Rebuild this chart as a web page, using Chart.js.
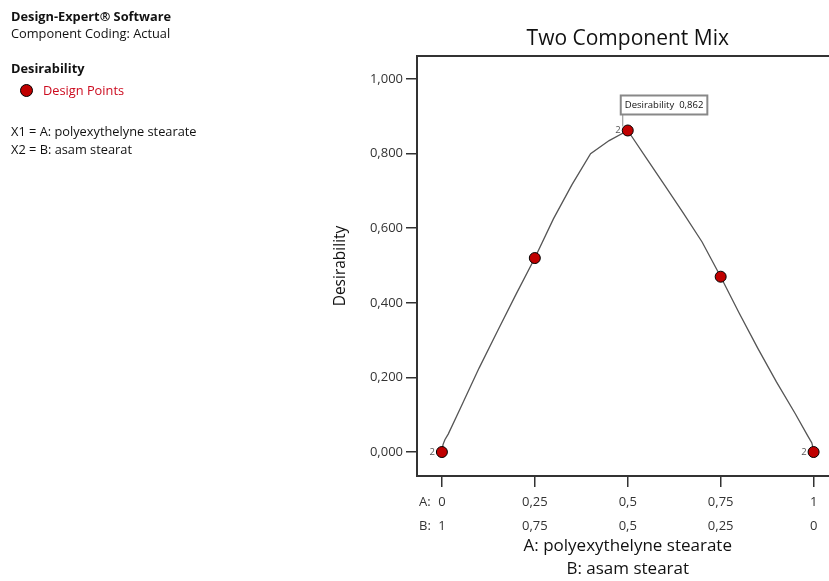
<!DOCTYPE html>
<html>
<head>
<meta charset="utf-8">
<script src="https://cdn.jsdelivr.net/npm/chart.js@4.4.1/dist/chart.umd.min.js"></script>
<style>
  html, body { margin: 0; padding: 0; background: #fff; overflow: hidden; }
  #wrap { position: relative; width: 845px; height: 581px; }
  .note { position: absolute; left: 11px; font-family: 'Open Sans', sans-serif; font-size: 12.8px; line-height: 16px; color: #111; white-space: nowrap; }
  .bold { font-weight: bold; }
  .dot { position: absolute; left: 20px; top: 84px; width: 13px; height: 13px; box-sizing: border-box; border-radius: 50%; background: #c00000; border: 1.5px solid #000; }
</style>
</head>
<body>
<div id="wrap">
  <canvas id="mixCanvas"></canvas>
  <div class="note bold" style="top:8px">Design-Expert® Software</div>
  <div class="note" style="top:25px">Component Coding: Actual</div>
  <div class="note bold" style="top:60px">Desirability</div>
  <div class="dot"></div>
  <div class="note" style="top:82px; left:43px; color:#cc0a1e">Design Points</div>
  <div class="note" style="top:123px">X1 = A: polyexythelyne stearate</div>
  <div class="note" style="top:141px">X2 = B: asam stearat</div>
</div>
<script>
// design points (A proportion) and their desirability
var designX = [0, 0.25, 0.5, 0.75, 1];
var designY = [0, 0.52, 0.862, 0.47, 0];
var designRuns = [2, 1, 2, 1, 2];

// fitted desirability curve
var curveX = [0, 0.003, 0.008, 0.017, 0.05, 0.1, 0.15, 0.2, 0.25, 0.3, 0.35, 0.4, 0.45, 0.5,
  0.55, 0.6, 0.65, 0.7, 0.75, 0.8, 0.85, 0.9, 0.95, 0.985, 0.995, 0.999, 1];
var curveY = [0, 0.02, 0.033, 0.048, 0.118, 0.225, 0.325, 0.424, 0.52, 0.625, 0.717, 0.8, 0.835, 0.862,
  0.788, 0.714, 0.64, 0.563, 0.47, 0.372, 0.278, 0.188, 0.104, 0.042, 0.025, 0.01, 0];

var xTicks = [0, 0.25, 0.5, 0.75, 1];
var aLabels = ['0', '0,25', '0,5', '0,75', '1'];
var bLabels = ['1', '0,75', '0,5', '0,25', '0'];
var yTicks = [0, 0.2, 0.4, 0.6, 0.8, 1];
var yLabels = ['0,000', '0,200', '0,400', '0,600', '0,800', '1,000'];

var axisColor = '#333';
var tickFont = { family: 'Open Sans', size: 13, lineHeight: 1.8 };

function toPoints(xs, ys) {
  return xs.map(function (x, i) { return { x: x, y: ys[i] }; });
}

var extras = {
  id: 'extras',
  afterDraw: function (chart) {
    var ctx = chart.ctx;
    var area = chart.chartArea;
    var xs = chart.scales.x;
    var ys = chart.scales.y;
    ctx.save();

    // top frame line
    ctx.strokeStyle = axisColor;
    ctx.lineWidth = 2;
    ctx.beginPath();
    ctx.moveTo(area.left - 1, area.top);
    ctx.lineTo(area.right, area.top);
    ctx.stroke();

    // A: / B: row prefixes
    var lh = tickFont.size * tickFont.lineHeight;
    var rowTop = area.bottom + 11 + 4;
    ctx.font = tickFont.size + 'px "Open Sans"';
    ctx.fillStyle = axisColor;
    ctx.textAlign = 'left';
    ctx.textBaseline = 'middle';
    ctx.fillText('A:', area.left + 2, rowTop + lh / 2);
    ctx.fillText('B:', area.left + 2, rowTop + lh * 1.5);

    // replicate counts
    ctx.font = '9.5px "Open Sans"';
    ctx.fillStyle = '#555';
    ctx.textAlign = 'right';
    designX.forEach(function (x, i) {
      if (designRuns[i] > 1) {
        ctx.fillText(String(designRuns[i]), xs.getPixelForValue(x) - 7, ys.getPixelForValue(designY[i]));
      }
    });

    // flag on the best point
    var best = designY.indexOf(Math.max.apply(null, designY));
    var px = xs.getPixelForValue(designX[best]);
    var py = ys.getPixelForValue(designY[best]);
    var text = 'Desirability  ' + designY[best].toFixed(3).replace('.', ',');
    ctx.font = '9.5px "Open Sans"';
    var w = ctx.measureText(text).width + 8;
    var boxL = px - 7, boxB = py - 16, boxH = 19;
    ctx.strokeStyle = '#888';
    ctx.lineWidth = 1;
    ctx.beginPath();
    ctx.moveTo(px - 5, boxB);
    ctx.lineTo(px - 5, py - 4);
    ctx.stroke();
    ctx.fillStyle = '#fff';
    ctx.fillRect(boxL, boxB - boxH, w, boxH);
    ctx.lineWidth = 2;
    ctx.strokeRect(boxL, boxB - boxH, w, boxH);
    ctx.fillStyle = '#111';
    ctx.textAlign = 'left';
    ctx.fillText(text, boxL + 4, boxB - boxH / 2);
    ctx.restore();
  }
};

function mixChart() {
  new Chart(document.getElementById('mixCanvas').getContext('2d'), {
    type: 'scatter',
    data: {
      datasets: [{
        label: 'Design Points',
        data: toPoints(designX, designY),
        pointRadius: 5.5,
        pointBackgroundColor: '#c00000',
        pointBorderColor: '#000',
        pointBorderWidth: 1,
        showLine: false
      }, {
        label: 'Desirability',
        data: toPoints(curveX, curveY),
        showLine: true,
        pointRadius: 0,
        borderColor: '#555',
        borderWidth: 1.3,
        tension: 0,
        clip: false
      }]
    },
    options: {
      responsive: true,
      maintainAspectRatio: false,
      animation: false,
      events: [],
      layout: { padding: { left: 327, right: 6, top: 0, bottom: 0 } },
      plugins: {
        legend: { display: false },
        tooltip: { enabled: false },
        title: {
          display: true,
          text: 'Two Component Mix',
          fullSize: false,
          color: '#111',
          font: { family: 'Open Sans', size: 21, weight: 'normal', lineHeight: 1.2 },
          padding: { top: 26, bottom: 4.8 }
        }
      },
      scales: {
        x: {
          type: 'linear',
          min: -0.067,
          max: 1.067,
          afterBuildTicks: function (s) { s.ticks = xTicks.map(function (v) { return { value: v }; }); },
          afterFit: function (s) { s.height = 105; },
          ticks: {
            autoSkip: false,
            maxRotation: 0,
            padding: 4,
            color: axisColor,
            font: tickFont,
            callback: function (v, i) { return [aLabels[i], bLabels[i]]; }
          },
          grid: { drawOnChartArea: false, drawTicks: true, tickLength: 11, color: axisColor, lineWidth: 1.5 },
          border: { color: axisColor, width: 2 },
          title: {
            display: true,
            text: ['A: polyexythelyne stearate', 'B: asam stearat'],
            color: '#111',
            font: { family: 'Open Sans', size: 17, lineHeight: 1.36 },
            padding: { top: 0, bottom: 0 }
          }
        },
        y: {
          min: -0.0643,
          max: 1.0617,
          afterBuildTicks: function (s) { s.ticks = yTicks.map(function (v) { return { value: v }; }); },
          afterFit: function (s) { s.width = 90; },
          ticks: {
            padding: 3,
            color: axisColor,
            font: { family: 'Open Sans', size: 13 },
            callback: function (v, i) { return yLabels[i]; }
          },
          grid: { drawOnChartArea: false, drawTicks: true, tickLength: 11, color: axisColor, lineWidth: 1.5 },
          border: { color: axisColor, width: 2 },
          title: {
            display: true,
            text: 'Desirability',
            color: '#111',
            font: { family: 'Open Sans', size: 15.5 },
            padding: { top: 4, bottom: 0 }
          }
        }
      }
    },
    plugins: [extras]
  });
}

document.addEventListener('DOMContentLoaded', function () {
  mixChart();
});
</script>
</body>
</html>
